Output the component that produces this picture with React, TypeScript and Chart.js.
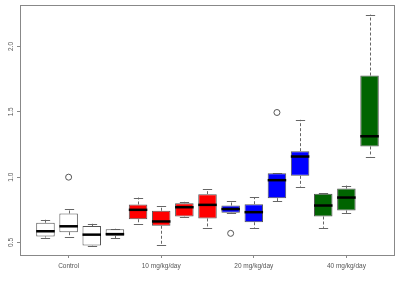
import React, { useEffect, useRef } from "react";
import { Chart, registerables } from "chart.js";

Chart.register(...registerables);

// ---- data ----
const groupLabels = ["Control", "10 mg/kg/day", "20 mg/kg/day", "40 mg/kg/day"];
const groupTickPositions = [2, 6, 10, 14];
const boxGroup = [0, 0, 0, 0, 1, 1, 1, 1, 2, 2, 2, 2, 3, 3, 3];
const lowerWhisker = [0.538, 0.544, 0.475, 0.533, 0.64, 0.479, 0.697, 0.609, 0.725, 0.612, 0.814, 0.928, 0.612, 0.727, 1.158];
const q1 = [0.546, 0.579, 0.477, 0.551, 0.678, 0.628, 0.699, 0.684, 0.727, 0.655, 0.839, 1.01, 0.699, 0.745, 1.235];
const median = [0.586, 0.624, 0.56, 0.564, 0.75, 0.661, 0.77, 0.788, 0.756, 0.732, 0.977, 1.158, 0.783, 0.844, 1.313];
const q3 = [0.651, 0.722, 0.626, 0.602, 0.791, 0.743, 0.801, 0.87, 0.783, 0.793, 1.03, 1.199, 0.873, 0.913, 1.778];
const upperWhisker = [0.674, 0.758, 0.643, 0.605, 0.844, 0.781, 0.811, 0.908, 0.814, 0.847, 1.03, 1.439, 0.877, 0.936, 2.244];
const outlierBox = [2, 9, 11];
const outlierValue = [1.0, 0.57, 1.495];
const yTickValues = [0.5, 1.0, 1.5, 2.0];
const yTickLabels = ["0.5", "1.0", "1.5", "2.0"];

// ---- styles ----
const groupColors = ["#ffffff", "#ff0000", "#0000ff", "#006400"];
const lineGray = "#555555";
const textGray = "#555555";
const FONT = { family: "Liberation Sans, Arial, sans-serif", size: 6.5 };

const n = median.length;
const allVals = [...lowerWhisker, ...upperWhisker, ...outlierValue];
const dMin = Math.min(...allVals);
const dMax = Math.max(...allVals);
const yPad = (dMax - dMin) * 0.04;
const xPad = n * 0.04;

const boxExtras = {
  id: "boxExtras",
  beforeDatasetsDraw(chart: any) {
    const { ctx, scales } = chart;
    const x = scales.x, y = scales.y;
    const meta = chart.getDatasetMeta(0);
    ctx.save();
    ctx.strokeStyle = "#666";
    ctx.lineWidth = 1;
    for (let i = 0; i < n; i++) {
      const cx = Math.round(x.getPixelForValue(i + 1)) + 0.5;
      const half = meta.data[i].width / 4;
      ctx.setLineDash([3, 2]);
      ctx.beginPath();
      ctx.moveTo(cx, y.getPixelForValue(q3[i]));
      ctx.lineTo(cx, y.getPixelForValue(upperWhisker[i]));
      ctx.moveTo(cx, y.getPixelForValue(q1[i]));
      ctx.lineTo(cx, y.getPixelForValue(lowerWhisker[i]));
      ctx.stroke();
      ctx.setLineDash([]);
      ctx.beginPath();
      const yu = Math.round(y.getPixelForValue(upperWhisker[i])) + 0.5;
      const yl = Math.round(y.getPixelForValue(lowerWhisker[i])) + 0.5;
      ctx.moveTo(cx - half, yu);
      ctx.lineTo(cx + half, yu);
      ctx.moveTo(cx - half, yl);
      ctx.lineTo(cx + half, yl);
      ctx.stroke();
    }
    ctx.restore();
  },
  afterDatasetsDraw(chart: any) {
    const { ctx, scales } = chart;
    const x = scales.x, y = scales.y;
    const meta = chart.getDatasetMeta(0);
    ctx.save();
    ctx.strokeStyle = "#000";
    ctx.lineWidth = 2.5;
    for (let i = 0; i < n; i++) {
      const cx = x.getPixelForValue(i + 1);
      const half = meta.data[i].width / 2;
      const ym = y.getPixelForValue(median[i]);
      ctx.beginPath();
      ctx.moveTo(cx - half, ym);
      ctx.lineTo(cx + half, ym);
      ctx.stroke();
    }
    ctx.restore();
  },
  afterDraw(chart: any) {
    const { ctx, chartArea } = chart;
    ctx.save();
    ctx.strokeStyle = "#888";
    ctx.lineWidth = 1;
    ctx.strokeRect(
      Math.round(chartArea.left) + 0.5,
      Math.round(chartArea.top) + 0.5,
      Math.round(chartArea.right - chartArea.left) - 1,
      Math.round(chartArea.bottom - chartArea.top)
    );
    ctx.restore();
  },
};

export default function App() {
  const ref = useRef<HTMLCanvasElement>(null);
  useEffect(() => {
    const canvas = ref.current!;
    const chart = new Chart(canvas, {
      type: "bar",
      data: {
        datasets: [
          {
            type: "bar",
            data: median.map((_, i) => ({ x: i + 1, y: [q1[i], q3[i]] })) as any,
            backgroundColor: boxGroup.map((g) => groupColors[g]),
            borderColor: lineGray,
            borderWidth: 1,
            borderSkipped: false,
            categoryPercentage: 1,
            barPercentage: 0.8,
            grouped: false,
          } as any,
          {
            type: "scatter",
            data: outlierBox.map((b, i) => ({ x: b, y: outlierValue[i] })),
            pointStyle: "circle",
            pointRadius: 3,
            borderColor: lineGray,
            borderWidth: 1,
            backgroundColor: "rgba(0,0,0,0)",
          } as any,
        ],
      },
      options: {
        responsive: false,
        animation: false,
        devicePixelRatio: 1,
        layout: { padding: { top: 4, right: 1, left: 0, bottom: 0 } },
        plugins: { legend: { display: false }, tooltip: { enabled: false } },
        scales: {
          x: {
            type: "linear",
            min: 0.5 - xPad,
            max: n + 0.5 + xPad,
            offset: false,
            grid: { display: true, offset: false, drawOnChartArea: false, drawTicks: true, tickLength: 3, color: "#888" },
            border: { display: false },
            afterBuildTicks: (s: any) => {
              s.ticks = groupTickPositions.map((v) => ({ value: v }));
            },
            afterFit: (s: any) => {
              s.height = 29;
            },
            ticks: {
              autoSkip: false,
              minRotation: 0,
              maxRotation: 0,
              padding: 4,
              color: textGray,
              font: FONT,
              callback: (_v: any, i: number) => groupLabels[i],
            },
          },
          y: {
            type: "linear",
            min: dMin - yPad,
            max: dMax + yPad,
            grid: { display: true, drawOnChartArea: false, drawTicks: true, tickLength: 3, color: "#888" },
            border: { display: false },
            afterBuildTicks: (s: any) => {
              s.ticks = yTickValues.map((v) => ({ value: v }));
            },
            afterFit: (s: any) => {
              s.width = 20;
            },
            ticks: {
              minRotation: 90,
              maxRotation: 90,
              crossAlign: "center",
              padding: 1.5,
              color: textGray,
              font: FONT,
              callback: (_v: any, i: number) => yTickLabels[i],
            },
          },
        },
      },
      plugins: [boxExtras],
    });
    return () => chart.destroy();
  }, []);
  return (
    <div style={{ position: "absolute", left: 0, top: 0, width: 400, height: 284, background: "#fff" }}>
      <canvas ref={ref} width={400} height={284} style={{ display: "block" }} />
    </div>
  );
}
